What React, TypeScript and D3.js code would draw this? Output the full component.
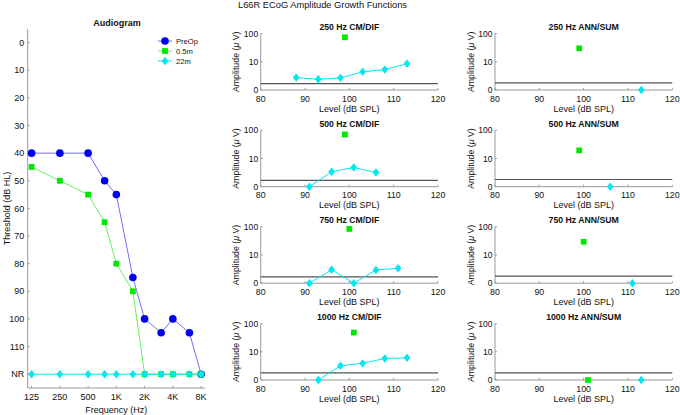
import React from 'react';
import * as d3 from 'd3';

// ---------- Audiogram data ----------
const freqs = [125, 250, 500, 750, 1000, 1500, 2000, 3000, 4000, 6000, 8000];
const preOp = [40, 40, 40, 50, 55, 85, 100, 105, 100, 105, 120];
const m05 = [45, 50, 55, 65, 80, 90, 120, 120, 120, 120, 120];
const m22 = [120, 120, 120, 120, 120, 120, 120, 120, 120, 120, 120];
const audioXTicks = [125, 250, 500, 1000, 2000, 4000, 8000];
const audioXLabels = ['125', '250', '500', '1K', '2K', '4K', '8K'];
const audioYTicks = [0, 10, 20, 30, 40, 50, 60, 70, 80, 90, 100, 110, 120];
const audioYLabels = ['0', '10', '20', '30', '40', '50', '60', '70', '80', '90', '100', '110', 'NR'];
const seriesNames = ['PreOp', '0.5m', '22m'];

// ---------- ECoG growth function data ----------
const rowFreqs = ['250', '500', '750', '1000'];
const cmLevels22 = [[88, 93, 98, 103, 108, 113], [91, 96, 101, 106], [91, 96, 101, 106, 111], [93, 98, 103, 108, 113]];
const cmAmps22 = [[2.75, 2.4, 2.7, 4.4, 5.3, 8.5], [0, 3.4, 4.8, 3.2], [0, 3.0, 0, 2.95, 3.4], [0, 3.2, 3.9, 5.8, 6.1]];
const cmLevels05 = [[99], [99], [100], [101]];
const cmAmps05 = [[74], [71], [84], [48]];
const annLevels22 = [[113], [106], [111], [113]];
const annAmps22 = [[0], [0], [0], [0]];
const annLevels05 = [[99], [99], [100], [101]];
const annAmps05 = [[30], [19.4], [29.5], [0]];
const cmNoise = [1.68, 1.68, 1.68, 1.78];
const annNoise = [1.78, 1.8, 1.78, 1.78];
const levelTicks = [80, 90, 100, 110, 120];
const ampTicks = [1, 10, 100];
const ampLabels = ['0', '10', '100'];

const FONT = 'Liberation Sans, Arial, Helvetica, sans-serif';
const BLUE = '#0000f0';
const BLUE_L = '#6e6eff';
const GREEN = '#00e800';
const GREEN_L = '#66ee66';
const CYAN = '#00e8f0';
const AXIS = '#9a9a9a';

type MarkerKind = 'circle' | 'square' | 'diamond';

function Marker({ kind, x, y, color }: { kind: MarkerKind; x: number; y: number; color: string }) {
  if (kind === 'circle') return <circle cx={x} cy={y} r={3.8} fill={color} />;
  if (kind === 'square') return <rect x={x - 2.9} y={y - 2.9} width={5.8} height={5.8} fill={color} />;
  return <path d={`M${x},${y - 4.2}L${x + 3.4},${y}L${x},${y + 4.2}L${x - 3.4},${y}Z`} fill={color} />;
}

function Audiogram() {
  const x = d3.scaleLog().base(2).domain([113.6, 8800]).range([27.7, 205]);
  const y = d3.scaleLinear().domain([-5, 125]).range([28.8, 388]);
  const line = d3.line<[number, number]>().x((d) => x(d[0])).y((d) => y(d[1]));
  const series: { vals: number[]; color: string; lc: string; kind: MarkerKind }[] = [
    { vals: preOp, color: BLUE, lc: BLUE_L, kind: 'circle' },
    { vals: m05, color: GREEN, lc: GREEN_L, kind: 'square' },
    { vals: m22, color: CYAN, lc: CYAN, kind: 'diamond' },
  ];
  const [x0, x1] = x.range();
  const [y0, y1] = y.range();
  return (
    <g fontFamily={FONT}>
      <line x1={x0} x2={x0} y1={y0} y2={y1} stroke={AXIS} />
      <line x1={x0} x2={x1} y1={y1} y2={y1} stroke={AXIS} />
      {audioYTicks.map((t, i) => (
        <g key={'yt' + i}>
          <line x1={x0} x2={x0 + 2} y1={y(t)} y2={y(t)} stroke={AXIS} />
          <text x={x0 - 3.5} y={y(t) + 3.2} fontSize={9} textAnchor="end" fill="#111">{audioYLabels[i]}</text>
        </g>
      ))}
      {audioXTicks.map((t, i) => (
        <g key={'xt' + i}>
          <line x1={x(t)} x2={x(t)} y1={y1} y2={y1 - 2} stroke={AXIS} />
          <text x={x(t)} y={y1 + 12} fontSize={9} textAnchor="middle" fill="#111">{audioXLabels[i]}</text>
        </g>
      ))}
      <text x={(x0 + x1) / 2} y={412.5} fontSize={9} textAnchor="middle" fill="#111">Frequency (Hz)</text>
      <text transform={`translate(10,${(y0 + y1) / 2}) rotate(-90)`} fontSize={9} textAnchor="middle" fill="#111">Threshold (dB HL)</text>
      <text x={117} y={25.8} fontSize={9} fontWeight="bold" textAnchor="middle" fill="#111">Audiogram</text>
      {series.map((s, si) => (
        <g key={'s' + si}>
          <path d={line(freqs.map((f, i) => [f, s.vals[i]] as [number, number])) || ''} fill="none" stroke={s.lc} strokeWidth={1} />
          {freqs.map((f, i) => (
            <Marker key={i} kind={s.kind} x={x(f)} y={y(s.vals[i])} color={s.color} />
          ))}
        </g>
      ))}
      {series.map((s, si) => {
        const ly = 41 + si * 10;
        return (
          <g key={'lg' + si}>
            <line x1={158} x2={172} y1={ly} y2={ly} stroke={s.lc} />
            <Marker kind={s.kind} x={165} y={ly} color={s.color} />
            <text x={176} y={ly + 2.8} fontSize={7.6} fill="#111">{seriesNames[si]}</text>
          </g>
        );
      })}
    </g>
  );
}

function Panel({ left, bottom, title, l22, a22, l05, a05, noise }: {
  left: number; bottom: number; title: string; l22: number[]; a22: number[]; l05: number[]; a05: number[]; noise: number;
}) {
  const x = d3.scaleLinear().domain([80, 120]).range([left, left + 177.3]);
  const y = d3.scaleLog().domain([1, 100]).range([bottom, bottom - 56.4]);
  const yv = (a: number) => y(Math.max(a, 1));
  const line = d3.line<number>().x((d, i) => x(l22[i])).y((d) => yv(d));
  const [x0, x1] = x.range();
  const [y0, y1] = y.range();
  return (
    <g fontFamily={FONT}>
      <line x1={x0} x2={x0} y1={y1} y2={y0} stroke={AXIS} />
      <line x1={x0} x2={x1} y1={y0} y2={y0} stroke={AXIS} />
      {ampTicks.map((t, i) => (
        <g key={'y' + i}>
          <line x1={x0} x2={x0 + 2} y1={y(t)} y2={y(t)} stroke={AXIS} />
          <text x={x0 - 2.5} y={y(t) + 3} fontSize={8.6} textAnchor="end" fill="#111">{ampLabels[i]}</text>
        </g>
      ))}
      {levelTicks.map((t, i) => (
        <g key={'x' + i}>
          <line x1={x(t)} x2={x(t)} y1={y0} y2={y0 - 2} stroke={AXIS} />
          <text x={x(t)} y={y0 + 11.5} fontSize={8.8} textAnchor="middle" fill="#111">{t}</text>
        </g>
      ))}
      <text x={(x0 + x1) / 2} y={y0 + 21.5} fontSize={9} textAnchor="middle" fill="#111">Level (dB SPL)</text>
      <text transform={`translate(${x0 - 21.5},${(y0 + y1) / 2}) rotate(-90)`} fontSize={8.8} textAnchor="middle" fill="#111">
        Amplitude (<tspan fontStyle="italic">μ</tspan> V)
      </text>
      <text x={(x0 + x1) / 2} y={y1 - 3.5} fontSize={8.7} fontWeight="bold" textAnchor="middle" fill="#111">{title}</text>
      <line x1={x0} x2={x1} y1={yv(noise)} y2={yv(noise)} stroke="#555" strokeWidth={1.2} />
      {l22.length > 1 && <path d={line(a22) || ''} fill="none" stroke={CYAN} strokeWidth={1} />}
      {l05.map((l, i) => (
        <Marker key={'g' + i} kind="square" x={x(l)} y={yv(a05[i])} color={GREEN} />
      ))}
      {l22.map((l, i) => (
        <Marker key={'c' + i} kind="diamond" x={x(l)} y={yv(a22[i])} color={CYAN} />
      ))}
    </g>
  );
}

export default function App() {
  const bottoms = [90, 186.7, 283.2, 380];
  return (
    <div style={{ position: 'fixed', left: 0, top: 0 }}>
      <svg width={680} height={415} style={{ display: 'block', background: '#fff' }}>
        <text x={322.5} y={7.5} fontSize={9.3} textAnchor="middle" fill="#111" fontFamily={FONT}>
          L66R ECoG Amplitude Growth Functions
        </text>
        <Audiogram />
        {rowFreqs.map((f, r) => (
          <g key={r}>
            <Panel left={260.7} bottom={bottoms[r]} title={`${f} Hz CM/DIF`} l22={cmLevels22[r]} a22={cmAmps22[r]}
              l05={cmLevels05[r]} a05={cmAmps05[r]} noise={cmNoise[r]} />
            <Panel left={495} bottom={bottoms[r]} title={`${f} Hz ANN/SUM`} l22={annLevels22[r]} a22={annAmps22[r]}
              l05={annLevels05[r]} a05={annAmps05[r]} noise={annNoise[r]} />
          </g>
        ))}
      </svg>
    </div>
  );
}
